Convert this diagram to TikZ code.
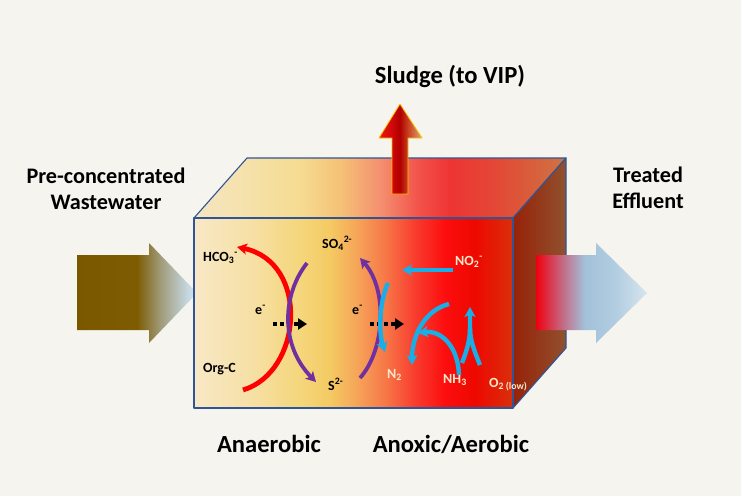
\documentclass[tikz,border=0pt]{standalone}
\usepackage{fontspec}
\setmainfont{Carlito}
\usetikzlibrary{arrows.meta}

\definecolor{bgcream}{HTML}{F5F4EE}
\definecolor{edgeblue}{HTML}{2F5597}
\definecolor{redarc}{HTML}{FF0000}
\definecolor{purplearc}{HTML}{7030A0}
\definecolor{bluearc}{HTML}{1AAEE6}
\definecolor{palelabel}{HTML}{FBE9CC}
\definecolor{sludgeline}{HTML}{FFC000}

% front face colours, left to right
\definecolor{fr0}{HTML}{F8E8C6}
\definecolor{fr1}{HTML}{F6E0A6}
\definecolor{fr2}{HTML}{F5D67C}
\definecolor{fr3}{HTML}{F4CA62}
\definecolor{fr4}{HTML}{F5A85A}
\definecolor{fr5}{HTML}{F67848}
\definecolor{fr6}{HTML}{F83C2E}
\definecolor{fr7}{HTML}{FC0E0E}
\definecolor{fr8}{HTML}{EE0800}
\definecolor{fr9}{HTML}{D8300C}
% top face colours
\definecolor{tp0}{HTML}{F5E6C2}
\definecolor{tp1}{HTML}{F5DC92}
\definecolor{tp2}{HTML}{F5C276}
\definecolor{tp3}{HTML}{F49070}
\definecolor{tp4}{HTML}{F25048}
\definecolor{tp5}{HTML}{EE3434}
\definecolor{tp6}{HTML}{E24A36}
\definecolor{tp7}{HTML}{CE7442}
% arrows
\definecolor{la0}{HTML}{7A5800}
\definecolor{la1}{HTML}{7D5C02}
\definecolor{la2}{HTML}{A09A78}
\definecolor{la3}{HTML}{C4D6DE}
\definecolor{la4}{HTML}{D8E6EC}
\definecolor{ra0}{HTML}{F00010}
\definecolor{ra1}{HTML}{C8607A}
\definecolor{ra2}{HTML}{A2C2DA}
\definecolor{ra3}{HTML}{B0CCE0}
\definecolor{ra4}{HTML}{D6E5EE}
\definecolor{ua0}{HTML}{E81A10}
\definecolor{ua1}{HTML}{D00808}
\definecolor{ua2}{HTML}{B00000}
\definecolor{ua3}{HTML}{C84020}
\definecolor{ua4}{HTML}{E0A870}

\pgfdeclarehorizontalshading{frontfade}{100bp}{%
  color(0bp)=(fr0); color(25bp)=(fr0); color(33.8bp)=(fr1); color(41.6bp)=(fr2);
  color(46.3bp)=(fr3); color(50.2bp)=(fr4); color(54.9bp)=(fr5); color(59.6bp)=(fr6);
  color(64.3bp)=(fr7); color(69bp)=(fr8); color(75bp)=(fr9); color(100bp)=(fr9)}
\pgfdeclarehorizontalshading{topfade}{100bp}{%
  color(0bp)=(tp0); color(25bp)=(tp0); color(39.2bp)=(tp1); color(44.6bp)=(tp2);
  color(50bp)=(tp3); color(55.4bp)=(tp4); color(59.4bp)=(tp5); color(66.1bp)=(tp6);
  color(75bp)=(tp7); color(100bp)=(tp7)}
\pgfdeclarehorizontalshading{infade}{100bp}{%
  color(0bp)=(la0); color(25bp)=(la0); color(50bp)=(la1); color(59.6bp)=(la2);
  color(70.8bp)=(la3); color(75bp)=(la4); color(100bp)=(la4)}
\pgfdeclarehorizontalshading{outfade}{100bp}{%
  color(0bp)=(ra0); color(25bp)=(ra0); color(35.8bp)=(ra1); color(47bp)=(ra2);
  color(60bp)=(ra3); color(75bp)=(ra4); color(100bp)=(ra4)}
\pgfdeclarehorizontalshading{sludgefade}{100bp}{%
  color(0bp)=(ua0); color(25bp)=(ua0); color(40bp)=(ua1); color(49.4bp)=(ua2);
  color(58.7bp)=(ua3); color(75bp)=(ua4); color(100bp)=(ua4)}

\tikzset{
  face edge/.style={draw=edgeblue, line width=1.1pt, line join=round},
  big label/.style={font=\fontsize{24.6}{28}\selectfont\bfseries, inner sep=0pt, anchor=base},
  side label/.style={big label, font=\fontsize{22.2}{26}\selectfont\bfseries},
  chem/.style={font=\fontsize{14}{16}\selectfont\bfseries, inner sep=0pt, anchor=base west},
  flow arc/.style={line width=#1, line cap=butt,
                   -{Stealth[length=10pt,width=11pt,inset=2.5pt]}},
}

\begin{document}
\begin{tikzpicture}[x=1pt, y=-1pt,
    red arc/.style={flow arc=4.8pt, redarc},
    purple arc/.style={flow arc=3.8pt, purplearc},
    blue arc/.style={flow arc=4.4pt, bluearc},
    e flow/.style={black, line width=4pt, dash pattern=on 4pt off 3pt,
                   -{Triangle[length=9pt,width=11pt]}},
  ]
  \useasboundingbox (0,0) rectangle (741,496);
  \fill[bgcream] (0,0) rectangle (741,496);

  % ======== INFLOW ARROW ========
  \shade[shading=infade] (77,255) -- (149,255) -- (149,243) -- (197,293)
    -- (149,343) -- (149,330) -- (77,330) -- cycle;

  % ======== REACTOR BOX ========
  \shade[shading=topfade] (194,218) -- (247,158) -- (566,158) -- (513,218) -- cycle;
  \path[face edge] (194,218) -- (247,158) -- (566,158) -- (513,218) -- cycle;
  \shade[left color=fr9!70!black, right color=tp7!70!black]
    (513,218) -- (566,158) -- (566,348) -- (513,408) -- cycle;
  \path[face edge] (513,218) -- (566,158) -- (566,348) -- (513,408) -- cycle;
  \shade[shading=frontfade] (194,218) rectangle (513,408);
  \path[face edge] (194,218) rectangle (513,408);

  % ======== SLUDGE + OUTFLOW ARROWS ========
  \shade[shading=sludgefade] (392,194) -- (392,138) -- (379,138) -- (400,104)
    -- (422,138) -- (408,138) -- (408,194) -- cycle;
  \draw[sludgeline, line width=0.8pt, line join=round] (392,194) -- (392,138)
    -- (379,138) -- (400,104) -- (422,138) -- (408,138) -- (408,194) -- cycle;
  \shade[shading=outfade] (536,255) -- (596,255) -- (596,243) -- (647,293)
    -- (596,343) -- (596,330) -- (536,330) -- cycle;

  % ======== SPECIES LABELS ========
  \node[chem] (hco) at (203,261) {HCO\textsubscript{3}\textsuperscript{-}};
  \node[chem] (orgc) at (203,372) {Org-C};
  \node[chem] (so4) at (322,248) {SO\textsubscript{4}\textsuperscript{2-}};
  \node[chem] (s2) at (328,390) {S\textsuperscript{2-}};
  \node[chem, text=palelabel] (n2) at (387,378) {N\textsubscript{2}};
  \node[chem, text=palelabel] (no2) at (455,265) {NO\textsubscript{2}\textsuperscript{-}};
  \node[chem, text=palelabel] (nh3) at (443,383) {NH\textsubscript{3}};
  \node[chem, text=palelabel] (o2) at (489,387) {O\textsubscript{2 (low)}};

  % electron transfer, one per zone
  \foreach \i/\ex/\ax in {1/255/273, 2/352/370} {
    \node[chem] (e\i) at (\ex,314) {e\textsuperscript{-}};
    \coordinate (eflow\i) at (\ax,324);
    \draw[e flow] (eflow\i) -- ++(34,0);
  }

  % ======== REACTION ARCS ========
  \coordinate (orgc out) at (243,390);
  \coordinate (hco in) at (237,247);
  \coordinate (so4 out) at (307,263);
  \coordinate (s2 in) at (316,382);
  \coordinate (s2 out) at (360,378);
  \coordinate (so4 in) at (360,258);
  \draw[red arc] (orgc out) .. controls (303,372) and (310,262) .. (hco in);
  \draw[purple arc] (so4 out) .. controls (282,295) and (280,345) .. (s2 in);
  \draw[purple arc] (s2 out) .. controls (385,350) and (388,290) .. (so4 in);

  \coordinate (no2 out) at (453,270);
  \coordinate (no2 in) at (402,270);
  \coordinate (no2 split) at (388,283);
  \coordinate (n2 in) at (385,352);
  \coordinate (amm top) at (449,304);
  \coordinate (n2 in b) at (412,365);
  \coordinate (nh3 out) at (459,375);
  \coordinate (amm tip) at (418,333);
  \coordinate (o2 left) at (462,363);
  \coordinate (o2 right) at (480,365);
  \coordinate (o2 join) at (470,328);
  \coordinate (o2 tip) at (470,307);
  \draw[blue arc] (no2 out) -- (no2 in);
  \draw[blue arc] (no2 split) .. controls (380,300) and (378,330) .. (n2 in);
  \draw[blue arc] (amm top) .. controls (425,310) and (412,335) .. (n2 in b);
  \draw[blue arc] (nh3 out) .. controls (458,345) and (440,330) .. (amm tip);
  \draw[blue arc] (o2 left) .. controls (467,350) and (470,340) .. (o2 join) -- (o2 tip);
  \draw[blue arc, -] (o2 right) .. controls (474,350) and (470,340) .. (o2 join);

  % ======== STREAM + ZONE LABELS ========
  \node[big label] (sludge) at (450,83) {Sludge (to VIP)};
  \node[side label] (pre) at (106,183) {Pre-concentrated};
  \node[side label] (ww) at (106,209) {Wastewater};
  \node[side label] (treated) at (648,182) {Treated};
  \node[side label] (effluent) at (648,208) {Effluent};
  \node[big label] (anaer) at (269,452) {Anaerobic};
  \node[big label] (anox) at (451,452) {Anoxic/Aerobic};
\end{tikzpicture}
\end{document}
